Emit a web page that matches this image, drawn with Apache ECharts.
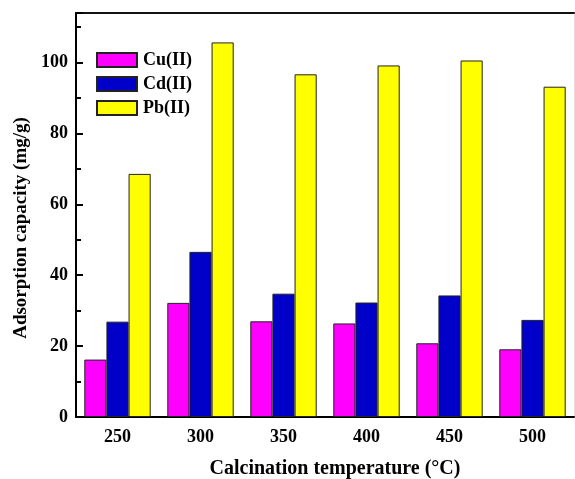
<!DOCTYPE html>
<html>
<head>
<meta charset="utf-8">
<script src="https://cdn.jsdelivr.net/npm/echarts@6/dist/echarts.min.js"></script>
<style>
  html, body { margin: 0; padding: 0; background: #fff; }
  #chart { width: 575px; height: 479px; }
</style>
</head>
<body>
<div id="chart"></div>
<script>
// Calcination temperatures (°C)
const temperatures = ['250', '300', '350', '400', '450', '500'];
// Adsorption capacity (mg/g) for each metal ion
const cuValues = [16.2, 32.2, 27.0, 26.4, 20.8, 19.1];
const cdValues = [26.9, 46.6, 34.8, 32.3, 34.3, 27.4];
const pbValues = [68.6, 105.7, 96.7, 99.2, 100.6, 93.2];
const seriesNames = ['Cu(II)', 'Cd(II)', 'Pb(II)'];
const yTicks = [0, 20, 40, 60, 80, 100];

const FONT = '"Liberation Serif", "Times New Roman", serif';
const chart = echarts.init(document.getElementById('chart'), null, { renderer: 'canvas' });

const barStyle = (color) => ({ color: color, borderColor: '#222', borderWidth: 1 });

chart.setOption({
  animation: false,
  backgroundColor: '#fff',
  grid: { left: 76, right: 1, top: 13, bottom: 62, containLabel: false },
  legend: {
    orient: 'vertical',
    left: 91,
    top: 46,
    itemWidth: 40,
    itemHeight: 14,
    itemGap: 6,
    icon: 'rect',
    data: seriesNames,
    textStyle: { fontFamily: FONT, fontWeight: 'bold', fontSize: 18, color: '#000', padding: [0, 0, 0, 1] }
  },
  xAxis: [
    {
      type: 'category',
      data: temperatures,
      position: 'bottom',
      axisLine: { lineStyle: { color: '#000', width: 2 } },
      axisTick: { inside: true, alignWithLabel: true, length: 6, lineStyle: { color: '#000', width: 2 } },
      axisLabel: { fontFamily: FONT, fontWeight: 'bold', fontSize: 18, color: '#000', margin: 11 },
      splitLine: { show: false }
    },
    {
      // boundary ticks between temperature groups
      type: 'category',
      data: temperatures,
      position: 'bottom',
      axisLine: { show: false },
      axisTick: { inside: true, length: 4, lineStyle: { color: '#000', width: 2 } },
      axisLabel: { show: false },
      splitLine: { show: false }
    },
    {
      type: 'category',
      data: temperatures,
      position: 'top',
      axisLine: { lineStyle: { color: '#111', width: 2 } },
      axisTick: { show: false },
      axisLabel: { show: false }
    }
  ],
  yAxis: [
    {
      type: 'value',
      min: 0,
      max: 114,
      interval: 20,
      position: 'left',
      axisLine: { show: true, lineStyle: { color: '#000', width: 2 } },
      axisTick: { show: true, inside: true, length: 7, lineStyle: { color: '#000', width: 2 } },
      minorTick: { show: true, splitNumber: 2, length: 5, lineStyle: { color: '#000', width: 2 } },
      axisLabel: {
        fontFamily: FONT, fontWeight: 'bold', fontSize: 18, color: '#000', margin: 8,
        formatter: (v) => (yTicks.indexOf(v) >= 0 ? String(v) : ''),
        showMaxLabel: false
      },
      splitLine: { show: false }
    },
    {
      type: 'value',
      min: 0,
      max: 114,
      position: 'right',
      axisLine: { show: true, lineStyle: { color: '#ddd', width: 1 } },
      axisTick: { show: false },
      axisLabel: { show: false },
      splitLine: { show: false }
    }
  ],
  series: [
    { name: seriesNames[0], type: 'bar', data: cuValues, barGap: '0%', barCategoryGap: '20%', itemStyle: barStyle('#FF00FF') },
    { name: seriesNames[1], type: 'bar', data: cdValues, barGap: '0%', barCategoryGap: '20%', itemStyle: barStyle('#0000C8') },
    { name: seriesNames[2], type: 'bar', data: pbValues, barGap: '0%', barCategoryGap: '20%', itemStyle: barStyle('#FFFF00') }
  ],
  graphic: [
    {
      type: 'text',
      x: 335, y: 469,
      style: {
        x: 0, y: 0,
        text: 'Calcination temperature (°C)',
        fontFamily: FONT, fontWeight: 'bold', fontSize: 20, fill: '#000',
        textAlign: 'center', textVerticalAlign: 'middle'
      }
    },
    {
      type: 'text',
      x: 21, y: 228,
      rotation: Math.PI / 2,
      style: {
        x: 0, y: 0,
        text: 'Adsorption capacity (mg/g)',
        fontFamily: FONT, fontWeight: 'bold', fontSize: 19, fill: '#000',
        textAlign: 'center', textVerticalAlign: 'middle'
      }
    }
  ]
});
</script>
</body>
</html>
